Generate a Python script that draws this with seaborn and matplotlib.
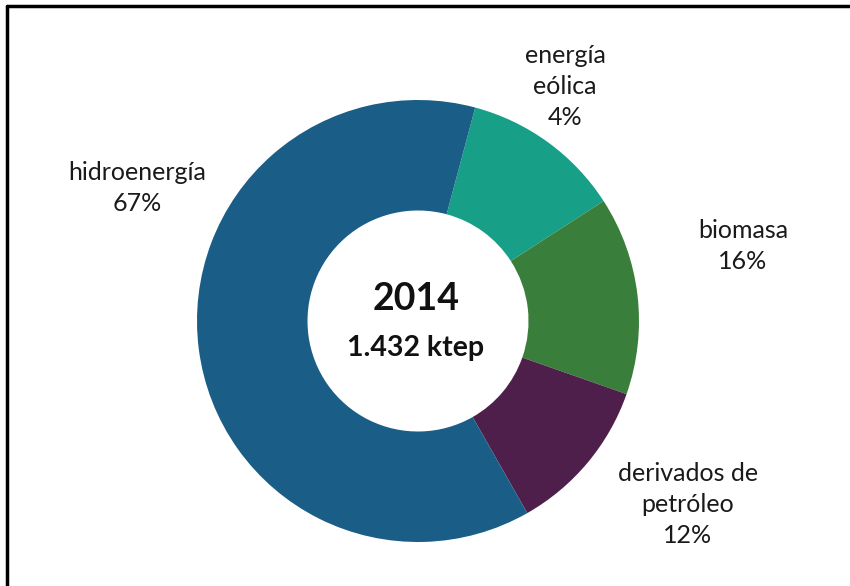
import numpy as np
import pandas as pd
import seaborn as sns
import matplotlib.pyplot as plt
from matplotlib.lines import Line2D

# Data (clockwise from the top)
sources = ["energía\neólica", "biomasa", "derivados de\npetróleo", "hidroenergía"]
pct_labels = ["4%", "16%", "12%", "67%"]
# wedge sizes as drawn in the picture (share of the ring, %)
wedge_shares = [11.7, 14.5, 11.4, 62.4]
colors = ["#17a087", "#3a7e3b", "#4e1f4b", "#1a5d86"]
year = "2014"
total = "1.432 ktep"

sns.set_theme(style="white")
plt.rcParams['font.family'] = ['Lato', 'DejaVu Sans']

df = pd.DataFrame({"source": sources, "pct": pct_labels, "share": wedge_shares})

W, H = 850, 586
fig = plt.figure(figsize=(W / 100, H / 100), dpi=100)
fig.patch.set_facecolor("white")

# pie centre (418, 321) px, radius 221 px
cx, cy, r = 418, 321, 221
ax = fig.add_axes([(cx - r) / W, (H - cy - r) / H, 2 * r / W, 2 * r / H])
ax.pie(df["share"], colors=colors, startangle=75, counterclock=False,
       radius=1.0, wedgeprops=dict(width=0.5, edgecolor="none"))
ax.set_xlim(-1, 1)
ax.set_ylim(-1, 1)
ax.set_aspect("equal")
ax.axis("off")

# label positions in data units
label_pos = [(0.665, 1.06), (1.47, 0.34), (1.22, -0.83), (-1.27, 0.60)]
for (x, y), name, pct in zip(label_pos, df["source"], df["pct"]):
    ax.text(x, y, name + "\n" + pct, ha="center", va="center", fontsize=18,
            color="#1a1a1a", linespacing=1.42, clip_on=False)

ax.text(-0.01, 0.10, year, ha="center", va="center", fontsize=27,
        fontweight="bold", color="#111111")
ax.text(-0.01, -0.12, total, ha="center", va="center", fontsize=20.5,
        fontweight="bold", color="#111111")

# frame lines (top and left)
fig.add_artist(Line2D([7 / W, 1.0], [1 - 6 / H, 1 - 6 / H], color="black", lw=2.5,
                      transform=fig.transFigure))
fig.add_artist(Line2D([7 / W, 7 / W], [0.0, 1 - 6 / H], color="black", lw=2.5,
                      transform=fig.transFigure))

fig.savefig("out.png", dpi=100)
